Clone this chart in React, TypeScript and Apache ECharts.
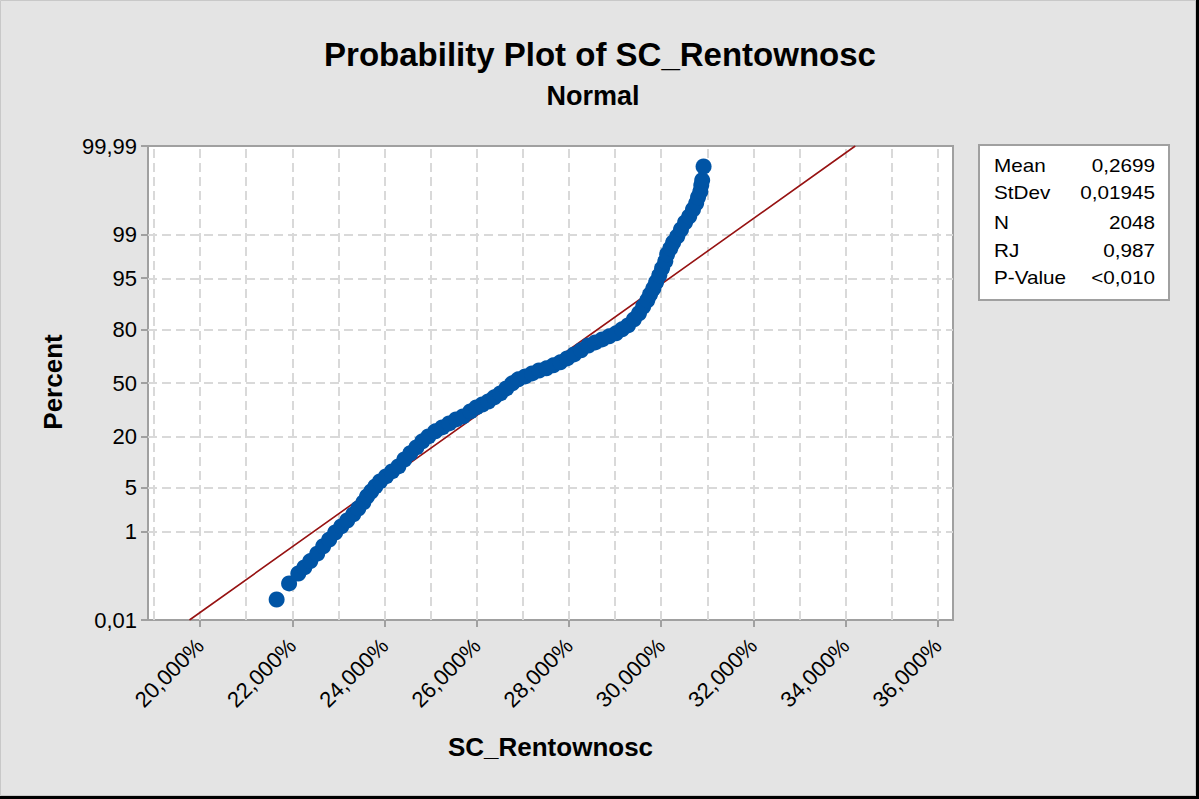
import { useEffect, useRef } from 'react';
import * as echarts from 'echarts';

// ---- data ----
const rentownosc = [
  0.2166, 0.2193, 0.2213, 0.2226, 0.2239, 0.2254, 0.2267, 0.2280, 0.2293, 0.2306,
  0.2319, 0.2332, 0.2343, 0.2354, 0.2362, 0.2371, 0.2380, 0.2390, 0.2403, 0.2416,
  0.2430, 0.2443, 0.2456, 0.2469, 0.2482, 0.2495, 0.2510, 0.2525, 0.2540, 0.2555,
  0.2570, 0.2586, 0.2599, 0.2612, 0.2625, 0.2638, 0.2651, 0.2664, 0.2677, 0.2690,
  0.2705, 0.2720, 0.2735, 0.2751, 0.2766, 0.2781, 0.2796, 0.2811, 0.2826, 0.2842,
  0.2857, 0.2872, 0.2887, 0.2902, 0.2915, 0.2928, 0.2941, 0.2952, 0.2961, 0.2970,
  0.2976, 0.2983, 0.2989, 0.2996, 0.3002, 0.3009, 0.3013, 0.3020, 0.3026, 0.3035,
  0.3043, 0.3052, 0.3061, 0.3069, 0.3076, 0.3080, 0.3085, 0.3087, 0.3089, 0.3092,
];
const percent = [
  0.034, 0.083, 0.14, 0.19, 0.26, 0.37, 0.52, 0.70, 0.95, 1.22,
  1.55, 1.96, 2.45, 3.05, 3.75, 4.44, 5.23, 6.12, 7.13, 8.26,
  9.53, 11.5, 13.5, 15.6, 18.0, 20.1, 22.4, 24.3, 26.3, 28.4,
  30.0, 32.8, 35.1, 36.8, 38.6, 41.1, 43.5, 46.6, 49.8, 52.3,
  54.1, 56.0, 57.8, 59.1, 60.9, 62.7, 65.0, 67.3, 69.6, 72.2,
  73.8, 75.3, 76.8, 78.2, 80.0, 81.7, 84.1, 86.3, 88.5, 90.3,
  91.8, 93.1, 94.3, 95.44, 96.40, 97.19, 97.83, 98.27, 98.63, 98.93,
  99.20, 99.415, 99.554, 99.678, 99.759, 99.822, 99.868, 99.904, 99.927, 99.966,
];
const fitRentownosc = [0.1977, 0.2699, 0.3421];
const fitPercent = [0.01, 50, 99.99];

const yTickPercents = [0.01, 1, 5, 20, 50, 80, 95, 99, 99.99];
const yTickLabels = ['0,01', '1', '5', '20', '50', '80', '95', '99', '99,99'];
const yGridPercents = [1, 5, 20, 50, 80, 95, 99];
const xTickValues = [0.20, 0.22, 0.24, 0.26, 0.28, 0.30, 0.32, 0.34, 0.36];
const xGridValues = [0.19, 0.20, 0.21, 0.22, 0.23, 0.24, 0.25, 0.26, 0.27, 0.28, 0.29, 0.30, 0.31, 0.32, 0.33, 0.34, 0.35, 0.36];
const xMin = 0.1887;
const xMax = 0.3633;

const statNames = ['Mean', 'StDev', 'N', 'RJ', 'P-Value'];
const statValues = ['0,2699', '0,01945', '2048', '0,987', '<0,010'];

const titleText = 'Probability Plot of SC_Rentownosc';
const subtitleText = 'Normal';
const xAxisTitle = 'SC_Rentownosc';
const yAxisTitle = 'Percent';

const FONT = '"Liberation Sans", Arial, Helvetica, sans-serif';

// inverse standard normal CDF (probability scale of the y axis)
function probit(p: number): number {
  const a = [-3.969683028665376e1, 2.209460984245205e2, -2.759285104469687e2, 1.38357751867269e2, -3.066479806614716e1, 2.506628277459239];
  const b = [-5.447609879822406e1, 1.615858368580409e2, -1.556989798598866e2, 6.680131188771972e1, -1.328068155288572e1];
  const c = [-7.784894002430293e-3, -3.223964580411365e-1, -2.400758277161838, -2.549732539343734, 4.374664141464968, 2.938163982698783];
  const d = [7.784695709041462e-3, 3.224671290700398e-1, 2.445134137142996, 3.754408661907416];
  const plow = 0.02425;
  const phigh = 1 - plow;
  if (p < plow) {
    const q = Math.sqrt(-2 * Math.log(p));
    return (((((c[0] * q + c[1]) * q + c[2]) * q + c[3]) * q + c[4]) * q + c[5]) /
      ((((d[0] * q + d[1]) * q + d[2]) * q + d[3]) * q + 1);
  }
  if (p <= phigh) {
    const q = p - 0.5;
    const r = q * q;
    return (((((a[0] * r + a[1]) * r + a[2]) * r + a[3]) * r + a[4]) * r + a[5]) * q /
      (((((b[0] * r + b[1]) * r + b[2]) * r + b[3]) * r + b[4]) * r + 1);
  }
  const q = Math.sqrt(-2 * Math.log(1 - p));
  return -(((((c[0] * q + c[1]) * q + c[2]) * q + c[3]) * q + c[4]) * q + c[5]) /
    ((((d[0] * q + d[1]) * q + d[2]) * q + d[3]) * q + 1);
}
const z = (pct: number) => probit(pct / 100);

export default function App() {
  const ref = useRef<HTMLDivElement>(null);

  useEffect(() => {
    if (!ref.current) return;
    const chart = echarts.init(ref.current, undefined, { renderer: 'svg' });

    const yTickZ = yTickPercents.map(z);
    const yMin = z(yTickPercents[0]);
    const yMax = z(yTickPercents[yTickPercents.length - 1]);

    const gridLineStyle = { type: [9, 5] as any, color: '#d9d9d9', width: 2 };

    const statGraphics: any[] = [];
    const rowY = [166, 193, 223, 251, 278];
    statNames.forEach((n, i) => {
      statGraphics.push({
        type: 'text', x: 994, y: rowY[i], scaleX: 1.15, z: 10,
        style: { text: n, fill: '#000', fontSize: 18, fontFamily: FONT, align: 'left', verticalAlign: 'middle' },
      });
      statGraphics.push({
        type: 'text', x: 1155, y: rowY[i], scaleX: 1.15, z: 10,
        style: { text: statValues[i], fill: '#000', fontSize: 18, fontFamily: FONT, align: 'right', verticalAlign: 'middle' },
      });
    });

    const option: any = {
      animation: false,
      backgroundColor: '#e4e4e4',
      grid: {
        left: 148, top: 146, width: 805, height: 474,
        show: true, backgroundColor: '#ffffff', borderColor: '#a0a0a0', borderWidth: 2,
        containLabel: false, outerBoundsMode: 'none',
      },
      xAxis: {
        type: 'value', min: xMin, max: xMax,
        axisLine: { show: true, onZero: false, lineStyle: { color: '#a0a0a0', width: 2 } },
        axisTick: { show: true, length: 7, customValues: xTickValues, lineStyle: { color: '#a0a0a0', width: 2 } },
        splitLine: { show: false },
        axisLabel: {
          customValues: xTickValues, rotate: 45, margin: 22,
          color: '#000', fontSize: 22, fontFamily: FONT,
          formatter: (v: number) => (v * 100).toFixed(3).replace('.', ',') + '%',
        },
      },
      yAxis: {
        type: 'value', min: yMin, max: yMax,
        axisLine: { show: true, onZero: false, lineStyle: { color: '#a0a0a0', width: 2 } },
        axisTick: { show: true, length: 7, customValues: yTickZ, lineStyle: { color: '#a0a0a0', width: 2 } },
        splitLine: { show: false },
        axisLabel: {
          customValues: yTickZ, margin: 11, color: '#000', fontSize: 22, fontFamily: FONT,
          formatter: (v: number) => {
            const i = yTickZ.findIndex((t) => Math.abs(t - v) < 1e-6);
            return i >= 0 ? yTickLabels[i] : '';
          },
        },
      },
      series: [
        {
          name: 'grid', type: 'line', data: [], z: 1, silent: true,
          markLine: {
            z: 1, silent: true, symbol: ['none', 'none'], label: { show: false },
            lineStyle: gridLineStyle,
            emphasis: { disabled: true },
            data: [
              ...xGridValues.map((v) => ({ xAxis: v })),
              ...yGridPercents.map((p) => ({ yAxis: z(p) })),
            ],
          },
        },
        {
          name: 'fit', type: 'line', z: 2, silent: true, symbol: 'none',
          lineStyle: { color: '#971313', width: 1.6 },
          data: fitRentownosc.map((x, i) => [x, z(fitPercent[i])]),
        },
        {
          name: 'SC_Rentownosc', type: 'scatter', z: 3, symbol: 'circle', symbolSize: 16,
          itemStyle: { color: '#0054a5', opacity: 1 },
          data: rentownosc.map((x, i) => [x, z(percent[i])]),
        },
      ],
      graphic: [
        { type: 'rect', z: -1, shape: { x: 0.5, y: 0.5, width: 1195, height: 795 }, style: { fill: 'none', stroke: '#c8c8c8', lineWidth: 1 } },
        { type: 'rect', z: 0, shape: { x: 1196, y: 0, width: 3, height: 799 }, style: { fill: '#000' } },
        { type: 'rect', z: 0, shape: { x: 0, y: 796, width: 1199, height: 3 }, style: { fill: '#000' } },
        {
          type: 'text', x: 600, y: 54,
          style: { text: titleText, fill: '#000', fontSize: 33, fontWeight: 'bold', fontFamily: FONT, align: 'center', verticalAlign: 'middle' },
        },
        {
          type: 'text', x: 593, y: 96,
          style: { text: subtitleText, fill: '#000', fontSize: 27, fontWeight: 'bold', fontFamily: FONT, align: 'center', verticalAlign: 'middle' },
        },
        {
          type: 'text', x: 550.5, y: 747,
          style: { text: xAxisTitle, fill: '#000', fontSize: 26, fontWeight: 'bold', fontFamily: FONT, align: 'center', verticalAlign: 'middle' },
        },
        {
          type: 'text', x: 53, y: 382, rotation: Math.PI / 2,
          style: { text: yAxisTitle, fill: '#000', fontSize: 26, fontWeight: 'bold', fontFamily: FONT, align: 'center', verticalAlign: 'middle' },
        },
        {
          type: 'rect', z: 5, shape: { x: 979, y: 145, width: 190, height: 155 },
          style: { fill: '#ffffff', stroke: '#a0a0a0', lineWidth: 2 },
        },
        ...statGraphics,
      ],
    };

    chart.setOption(option);
    return () => chart.dispose();
  }, []);

  return (
    <div
      ref={ref}
      style={{ position: 'fixed', left: 0, top: 0, width: 1199, height: 799 }}
    />
  );
}
